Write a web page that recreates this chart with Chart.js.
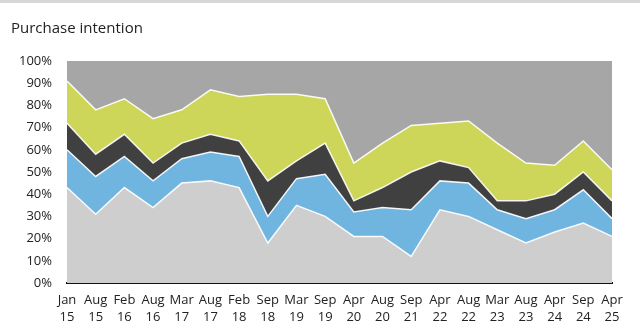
<!DOCTYPE html>
<html>
<head>
<meta charset="utf-8">
<script src="https://cdn.jsdelivr.net/npm/chart.js@4/dist/chart.umd.min.js"></script>
<style>
  html, body { margin: 0; padding: 0; background: #fff; }
  #wrap { position: relative; width: 640px; height: 334px; }
  #topbar { position: absolute; left: 0; top: 0; width: 640px; height: 3px; background: #d6d6d6; }
  #title { position: absolute; left: 11px; top: 17px; font: 15px "Open Sans", sans-serif; color: #222; }
</style>
</head>
<body>
<div id="wrap">
  <div id="topbar"></div>
  <div id="title">Purchase intention</div>
  <canvas id="chart" width="640" height="334"></canvas>
</div>
<script>
var months = ['Jan','Aug','Feb','Aug','Mar','Aug','Feb','Sep','Mar','Sep','Apr','Aug','Sep','Apr','Aug','Mar','Aug','Apr','Sep','Apr']
var years  = ['15','15','16','16','17','17','18','18','19','19','20','20','21','22','22','23','23','24','24','25']

// shares in %, stacked bottom to top
var layer1 = [43,31,43,34,45,46,43,18,35,30,21,21,12,33,30,24,18,23,27,21]
var layer2 = [17,17,14,12,11,13,14,12,12,19,11,13,21,13,15, 9,11,10,15, 8]
var layer3 = [12,10,10, 8, 7, 8, 7,16, 8,14, 5, 9,17, 9, 7, 4, 8, 7, 8, 8]
var layer4 = [19,20,16,20,15,20,20,39,30,20,17,20,21,17,21,26,17,13,14,14]
var layer5 = [ 9,22,17,26,22,13,16,15,15,17,46,37,29,28,27,37,46,47,36,49]

var labels = []
for (var i = 0; i < months.length; i++) {
  labels.push([months[i], years[i]])
}

function area(data, color, first, edge) {
  return {
    data: data,
    backgroundColor: color,
    borderColor: edge ? 'rgba(255,255,255,0.9)' : 'transparent',
    borderWidth: edge ? 1.5 : 0,
    fill: first ? 'origin' : '-1',
    pointRadius: 0,
    tension: 0
  }
}

var tickFont = { family: '"Open Sans", sans-serif', size: 13, lineHeight: 1.3 }

new Chart(document.getElementById('chart'), {
  type: 'line',
  data: {
    labels: labels,
    datasets: [
      area(layer1, '#cecece', true, true),
      area(layer2, '#70b4e0', false, true),
      area(layer3, '#404040', false, true),
      area(layer4, '#cdd659', false, true),
      area(layer5, '#a6a6a6', false, false)
    ]
  },
  options: {
    responsive: false,
    animation: false,
    layout: { padding: { top: 61, right: 28, left: 0, bottom: 0 } },
    plugins: { legend: { display: false }, tooltip: { enabled: false } },
    scales: {
      x: {
        offset: false,
        z: 1,
        grid: { display: false, drawTicks: false },
        border: { display: true, color: '#111', width: 2 },
        ticks: { color: '#222', font: tickFont, padding: 9, maxRotation: 0, autoSkip: false },
        afterFit: function (s) { s.height = 51 }
      },
      y: {
        stacked: true,
        min: 0,
        max: 100,
        z: 1,
        grid: {
          drawTicks: false,
          color: function (c) { return c.tick && c.tick.value === 100 ? '#858585' : 'transparent' }
        },
        border: { display: false },
        ticks: {
          stepSize: 10,
          color: '#222',
          font: tickFont,
          padding: 15,
          callback: function (v) { return v + '%' }
        },
        afterFit: function (s) { s.width = 67 }
      }
    }
  }
})
</script>
</body>
</html>
